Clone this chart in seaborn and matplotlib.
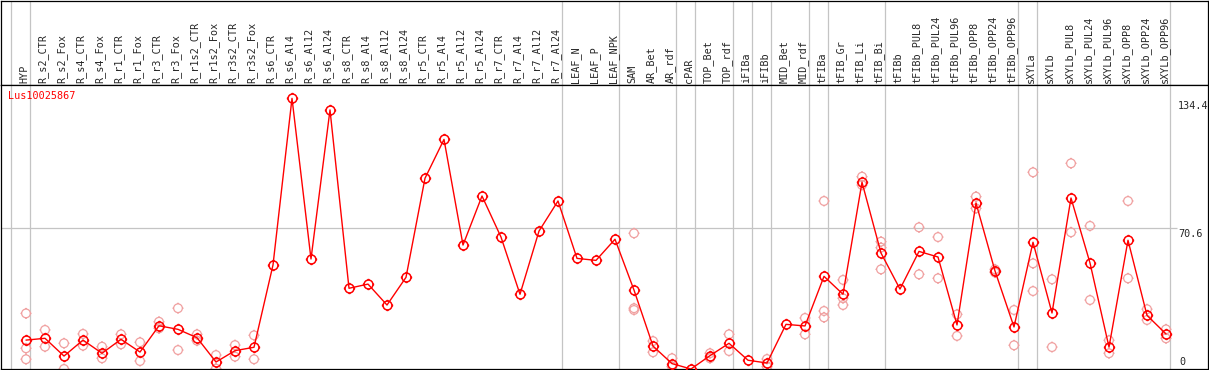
import pandas as pd
import matplotlib
matplotlib.use("Agg")
import matplotlib.pyplot as plt
import seaborn as sns
from matplotlib.path import Path

samples = ["HYP", "R_s2_CTR", "R_s2_Fox", "R_s4_CTR", "R_s4_Fox", "R_r1_CTR", "R_r1_Fox",
           "R_r3_CTR", "R_r3_Fox", "R_r1s2_CTR", "R_r1s2_Fox", "R_r3s2_CTR", "R_r3s2_Fox",
           "R_s6_CTR", "R_s6_Al4", "R_s6_Al12", "R_s6_Al24", "R_s8_CTR", "R_s8_Al4", "R_s8_Al12",
           "R_s8_Al24", "R_r5_CTR", "R_r5_Al4", "R_r5_Al12", "R_r5_Al24", "R_r7_CTR", "R_r7_Al4",
           "R_r7_Al12", "R_r7_Al24", "LEAF_N", "LEAF_P", "LEAF_NPK", "SAM", "AR_Bet", "AR_rdf",
           "cPAR", "TOP_Bet", "TOP_rdf", "iFIBa", "iFIBb", "MID_Bet", "MID_rdf", "tFIBa",
           "tFIB_Gr", "tFIB_Li", "tFIB_Bi", "tFIBb", "tFIBb_PUL8", "tFIBb_PUL24", "tFIBb_PUL96",
           "tFIBb_OPP8", "tFIBb_OPP24", "tFIBb_OPP96", "sXYLa", "sXYLb", "sXYLb_PUL8",
           "sXYLb_PUL24", "sXYLb_PUL96", "sXYLb_OPP8", "sXYLb_OPP24", "sXYLb_OPP96"]

mean_values = [14.5, 15.4, 6.5, 14.5, 7.9, 14.9, 8.5, 21.7, 19.9, 15.7, 3.5, 9.2, 10.9,
               52.2, 135.8, 55.2, 130.0, 40.5, 42.6, 32.1, 46.0, 95.7, 115.2, 62.2, 86.8,
               66.2, 37.5, 69.2, 84.3, 55.5, 54.5, 65.1, 39.6, 11.5, 2.7, 0.0, 6.7, 12.9,
               4.4, 3.0, 22.4, 21.6, 46.5, 37.5, 93.7, 58.2, 40.1, 59.0, 56.2, 22.1, 83.3,
               49.2, 21.1, 63.6, 28.1, 85.8, 53.2, 11.0, 64.6, 26.9, 17.6]

rep_samples = ["HYP", "HYP", "HYP", "R_s2_CTR", "R_s2_CTR", "R_s2_Fox", "R_s2_Fox",
               "R_s4_CTR", "R_s4_CTR", "R_s4_Fox", "R_s4_Fox", "R_r1_CTR", "R_r1_CTR",
               "R_r1_Fox", "R_r1_Fox", "R_r3_CTR", "R_r3_CTR", "R_r3_Fox", "R_r3_Fox",
               "R_r1s2_CTR", "R_r1s2_CTR", "R_r1s2_Fox", "R_r1s2_Fox", "R_r3s2_CTR", "R_r3s2_CTR",
               "R_r3s2_Fox", "R_r3s2_Fox", "SAM", "SAM", "SAM", "AR_Bet", "AR_Bet",
               "AR_rdf", "AR_rdf", "TOP_Bet", "TOP_Bet", "TOP_rdf", "TOP_rdf", "iFIBb", "iFIBb",
               "MID_rdf", "MID_rdf", "tFIBa", "tFIBa", "tFIBa", "tFIB_Gr", "tFIB_Gr", "tFIB_Gr",
               "tFIB_Li", "tFIB_Li", "tFIB_Bi", "tFIB_Bi", "tFIB_Bi", "tFIBb_PUL8", "tFIBb_PUL8",
               "tFIBb_PUL24", "tFIBb_PUL24", "tFIBb_PUL96", "tFIBb_PUL96", "tFIBb_OPP8",
               "tFIBb_OPP8", "tFIBb_OPP24", "tFIBb_OPP24", "tFIBb_OPP96", "tFIBb_OPP96",
               "sXYLa", "sXYLa", "sXYLa", "sXYLb", "sXYLb", "sXYLb_PUL8", "sXYLb_PUL8",
               "sXYLb_PUL24", "sXYLb_PUL24", "sXYLb_PUL96", "sXYLb_PUL96", "sXYLb_OPP8",
               "sXYLb_OPP8", "sXYLb_OPP24", "sXYLb_OPP24", "sXYLb_OPP96", "sXYLb_OPP96"]

rep_values = [27.9, 10.4, 4.9, 19.6, 11.2, 12.9, 0.0,
              17.6, 11.7, 11.2, 5.4, 17.4, 12.4,
              13.4, 4.0, 23.7, 20.4, 30.5, 9.5,
              17.4, 14.2, 7.0, 0.2, 12.0, 6.2,
              16.9, 4.9, 68.1, 30.5, 29.6, 14.0, 8.4,
              5.4, 1.2, 7.9, 5.4, 17.4, 9.0, 5.0, 1.2,
              25.6, 17.4, 84.3, 29.1, 25.9, 44.7, 35.5, 32.1,
              96.5, 92.3, 63.9, 60.9, 50.0, 71.1, 47.5,
              66.2, 45.5, 27.4, 16.6, 86.5,
              80.6, 50.0, 48.4, 29.6, 11.9,
              98.7, 53.0, 39.1, 45.0, 11.0, 103.2, 68.6,
              71.8, 34.6, 14.4, 7.9, 84.3,
              45.5, 30.0, 24.6, 19.9, 15.4]

# group separators sit just after the last sample of each group
group_ends = [-1, 0, 28, 31, 34, 35, 37, 38, 39, 41, 42, 45, 52, 53, 60]
axis_labels = ["134.4", "70.6", "0"]
gene = "Lus10025867"

sns.set_style("white")
plt.rcParams["font.family"] = ["DejaVu Sans Mono"]

pos = {s: i for i, s in enumerate(samples)}
df_mean = pd.DataFrame({"pos": range(len(samples)), "value": mean_values})
df_rep = pd.DataFrame({"pos": [pos[s] for s in rep_samples], "value": rep_values})

# circle with four little ticks
codes = [Path.MOVETO, Path.LINETO]
ticks = Path([(0, 1), (0, 1.28), (0, -1), (0, -1.28), (1, 0), (1.28, 0), (-1, 0), (-1.28, 0)],
             codes * 4)
mark = Path.make_compound_path(Path.unit_circle(), ticks)

W, H = 1209, 370
fig = plt.figure(figsize=(W / 100, H / 100), dpi=100)
head = fig.add_axes([1 / W, (H - 85) / H, 1207 / W, 84 / H])
ax = fig.add_axes([1 / W, 1 / H, 1207 / W, 284 / H])

xl = ((1 - 26) / 19, (1208 - 26) / 19)
for a in (head, ax):
    a.set_xlim(*xl)
    a.set_xticks([])
    a.set_yticks([])
    for sp in a.spines.values():
        sp.set_color("black")
        sp.set_linewidth(0.9)
    for g in group_ends:
        a.axvline(g + 0.22, color="#c4c4c4", lw=0.9, zorder=0)
head.set_ylim(0, 1)
ax.set_ylim(0, 142.5)

for i, s in enumerate(samples):
    head.text(i - 0.1, 2 / 84, s, rotation=90, ha="center", va="bottom", fontsize=7.3)

ax.hlines(70.6, xl[0], 60.58, color="#c4c4c4", lw=0.9, zorder=0)

sns.scatterplot(data=df_rep, x="pos", y="value", ax=ax, marker=mark, s=64,
                color="#f0a0a0", facecolor="none", edgecolor="#f0a0a0", linewidth=0.9,
                zorder=2, legend=False)
sns.lineplot(data=df_mean, x="pos", y="value", ax=ax, color="red", lw=1, sort=False,
             estimator=None, marker=mark, markersize=8.2, mfc="none", mec="red", mew=1.1,
             zorder=3)
ax.set_xlabel("")
ax.set_ylabel("")

ax.text(60.63, 134.4, axis_labels[0], ha="left", va="top", fontsize=7.3)
ax.text(60.63, 70.4, axis_labels[1], ha="left", va="top", fontsize=7.3)
ax.text(60.68, 1.2, axis_labels[2], ha="left", va="bottom", fontsize=7.3)
ax.text((8 - 26) / 19, 139.5, gene, color="red", ha="left", va="top", fontsize=7.3)

fig.savefig("out.png", dpi=100)
